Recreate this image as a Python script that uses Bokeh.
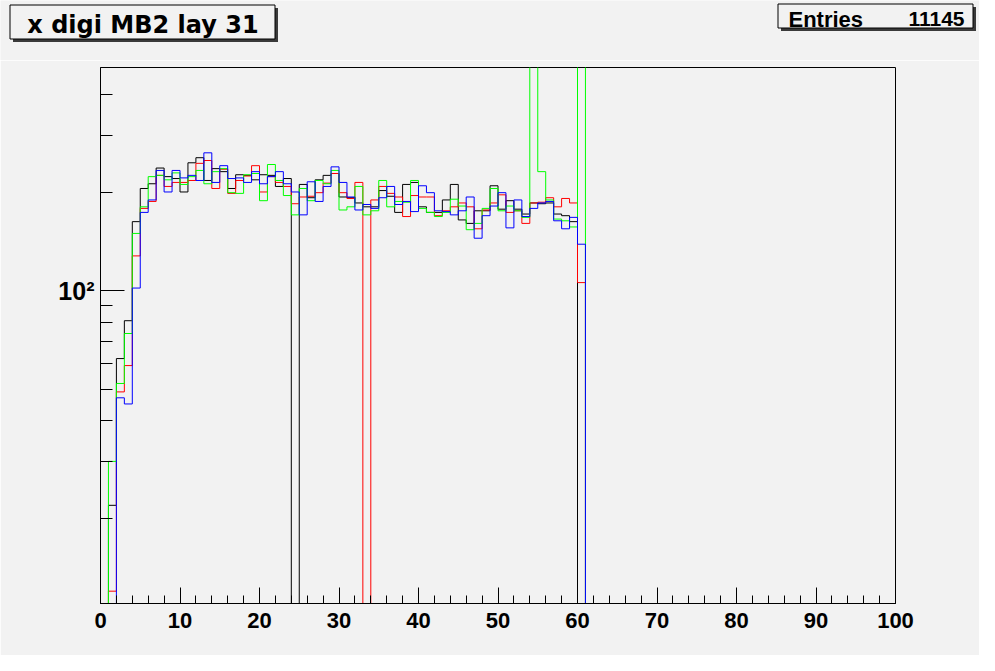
from bokeh.plotting import figure
from bokeh.models import Range1d, SingleIntervalTicker, FixedTicker
from bokeh.layouts import column
from bokeh.core.properties import value
from bokeh.embed import file_html
from bokeh.resources import INLINE

# ---- data: 100 bins of width 1 on [0, 100]; bins 0..61, rest empty ----
bin_edges = list(range(0, 101))

black_counts = [0, 22, 62, 81, 163, 206, 213, 238, 224, 221,
                201, 247, 256, 218, 237, 232, 206, 227, 226, 219,
                227, 226, 209, 221, 0, 212, 193, 219, 226, 229,
                194, 193, 186, 181, 181, 203, 195, 174, 212, 215,
                181, 174, 174, 190, 212, 165, 161, 176, 176, 210,
                178, 189, 178, 172, 186, 185, 186, 172, 170, 163,
                0, 0] + [0] * 38
red_counts = [0, 12, 49, 59, 128, 179, 188, 226, 209, 215,
              215, 218, 246, 251, 206, 236, 199, 218, 225, 242,
              201, 224, 215, 209, 185, 194, 195, 200, 214, 229,
              200, 192, 215, 0, 190, 209, 199, 194, 169, 196,
              194, 194, 170, 176, 181, 186, 181, 155, 177, 186,
              197, 174, 176, 161, 186, 187, 193, 181, 192, 186,
              106, 0] + [0] * 38
green_counts = [0, 30, 52, 74, 150, 181, 224, 226, 219, 230,
                212, 224, 234, 213, 232, 237, 200, 199, 227, 229,
                189, 244, 218, 196, 171, 206, 189, 218, 213, 234,
                177, 181, 209, 171, 176, 218, 181, 188, 187, 218,
                179, 174, 169, 174, 191, 182, 154, 161, 179, 206,
                176, 182, 176, 168, 700, 232, 190, 166, 164, 157,
                700, 0] + [0] * 38
blue_counts = [0, 0, 47, 45, 102, 174, 190, 234, 201, 234,
               222, 226, 218, 265, 215, 242, 221, 222, 215, 232,
               213, 224, 232, 213, 201, 171, 216, 188, 209, 240,
               215, 194, 177, 184, 179, 193, 209, 184, 188, 175,
               210, 200, 176, 175, 171, 176, 194, 145, 170, 182,
               200, 156, 190, 169, 179, 186, 188, 164, 155, 168,
               139, 0] + [0] * 38

series = [("black", black_counts), ("#ff0000", red_counts),
          ("#00ff00", green_counts), ("#0000ff", blue_counts)]

title_text = "x digi MB2 lay 31"
stats_label = "Entries"
stats_value = "11145"

x_tick_interval = 10
y_major = [100]
y_minor = [20, 30, 40, 50, 60, 70, 80, 90, 200, 300, 400]
y_min, y_max = 11, 484

BG = "#f2f2f2"
FONT = "Liberation Sans"

W, H = 979, 655
HEAD_H = 60
MAIN_H = H - HEAD_H
BL, BR, BT = 100, 84, 7
FH = 536
BB = MAIN_H - BT - FH

# ---------------- header strip (title box + stats box) ----------------
head = figure(width=W, height=HEAD_H, output_backend="svg", toolbar_location=None,
              x_range=Range1d(0, W), y_range=Range1d(HEAD_H, 0))
head.frame_align = False
head.min_border_left = head.min_border_right = 0
head.min_border_top = head.min_border_bottom = 0
head.axis.visible = False
head.grid.visible = False
head.outline_line_color = None
head.background_fill_color = BG
head.border_fill_color = BG


def add_box(fig, x0, y0, x1, y1):
    fig.quad(left=[x0 + 3], right=[x1 + 3], top=[y0 + 3], bottom=[y1 + 3],
             fill_color="#3a3a3a", line_color=None)
    fig.quad(left=[x0], right=[x1], top=[y0], bottom=[y1],
             fill_color=BG, line_color="black", line_width=1)


add_box(head, 9.5, 4.5, 274.5, 38.5)
head.text(x=[142.5], y=[24], text=[title_text], text_align="center",
          text_baseline="alphabetic", text_font=value("DejaVu Sans"),
          text_font_style="bold", text_font_size="24px", text_color="black")

add_box(head, 777.5, 3.5, 972.5, 27.5)
head.text(x=[788], y=[18.5], text=[stats_label], text_align="left",
          text_baseline="alphabetic", text_font=value(FONT),
          text_font_style="bold", text_font_size="22px", text_color="black")
head.text(x=[964], y=[18.5], text=[stats_value], text_align="right",
          text_baseline="alphabetic", text_font=value(FONT),
          text_font_style="bold", text_font_size="21px", text_color="black")

# ---------------- main histogram frame ----------------
p = figure(width=W, height=MAIN_H, output_backend="svg", toolbar_location=None,
           x_range=Range1d(0, 100), y_range=Range1d(y_min, y_max),
           y_axis_type="log")
p.frame_align = False
p.min_border_left = BL
p.min_border_right = BR
p.min_border_top = BT
p.min_border_bottom = BB
p.background_fill_color = BG
p.border_fill_color = BG
p.outline_line_color = "black"
p.outline_line_width = 1
p.grid.visible = False

xa = p.xaxis[0]
xa.ticker = SingleIntervalTicker(interval=x_tick_interval, num_minor_ticks=5)
xa.major_tick_in = 16
xa.major_tick_out = 0
xa.minor_tick_in = 8
xa.minor_tick_out = 0
xa.axis_line_color = "black"
xa.major_label_text_font = FONT
xa.major_label_text_font_style = "bold"
xa.major_label_text_font_size = "22px"
xa.major_label_text_color = "black"
xa.major_label_standoff = 9

ya = p.yaxis[0]
ya.ticker = FixedTicker(ticks=y_major, minor_ticks=y_minor)
ya.major_label_overrides = {100: "10\u00b2"}
ya.major_tick_in = 24
ya.major_tick_out = 0
ya.minor_tick_in = 12
ya.minor_tick_out = 0
ya.axis_line_color = "black"
ya.major_label_text_font = FONT
ya.major_label_text_font_style = "bold"
ya.major_label_text_font_size = "25px"
ya.major_label_text_color = "black"
ya.major_label_standoff = 6

# histograms (empty bins sit on the frame floor, as ROOT draws them on a log axis)
for color, counts in series:
    ys = [c if c > 0 else y_min for c in counts]
    ys = ys + [ys[-1]]
    p.step(x=bin_edges, y=ys, mode="after", line_color=color, line_width=1)

layout = column(head, p, spacing=0)
open("out.html", "w").write(file_html(layout, INLINE))
